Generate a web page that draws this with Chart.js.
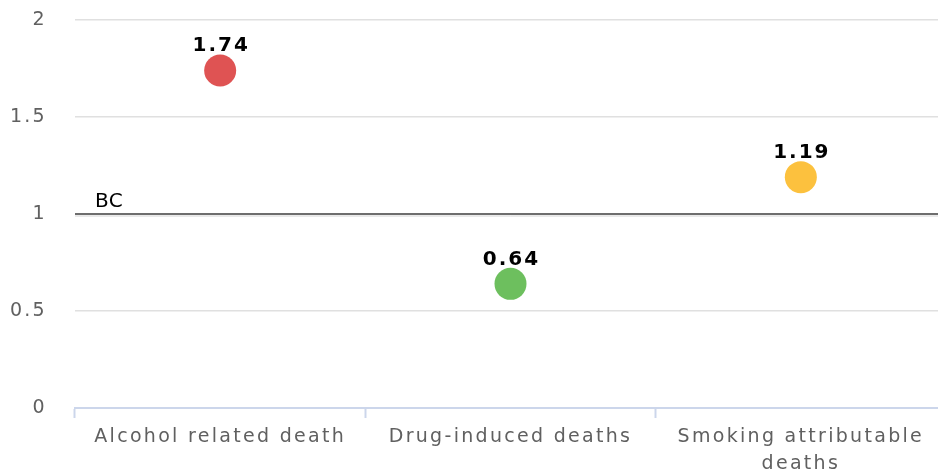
<!DOCTYPE html>
<html>
<head>
<meta charset="utf-8">
<script src="https://cdn.jsdelivr.net/npm/chart.js@4.4.0/dist/chart.umd.min.js"></script>
<style>
  html, body { margin: 0; padding: 0; background: #fff; overflow: hidden; }
  canvas { display: block; }
</style>
</head>
<body>
<canvas id="chart" width="962" height="476"></canvas>
<script>
const categories = ["Alcohol related death", "Drug-induced deaths", "Smoking attributable deaths"];
const values = [1.74, 0.64, 1.19];
const pointColors = ["#df5353", "#6dbf5e", "#fcc13e"];
const yTicks = [0, 0.5, 1, 1.5, 2];
const bcValue = 1;
const bcLabel = "BC";

const fontFamily = "'DejaVu Sans', Verdana, sans-serif";

// letter spacing is lost whenever the canvas is resized, so set it again before layout and draw
const spacingPlugin = {
    id: "spacing",
    beforeLayout(chart) { chart.ctx.letterSpacing = "2.3px"; },
    beforeDraw(chart) { chart.ctx.letterSpacing = "2.3px"; }
};

const bcLinePlugin = {
    id: "bcLine",
    beforeDatasetsDraw(chart) {
        const ctx = chart.ctx;
        const y = chart.scales.y.getPixelForValue(bcValue);
        const area = chart.chartArea;
        ctx.save();
        ctx.strokeStyle = "#6e6e6e";
        ctx.lineWidth = 2;
        ctx.beginPath();
        ctx.moveTo(area.left, y);
        ctx.lineTo(area.right, y);
        ctx.stroke();
        ctx.strokeStyle = "#d4d4d4";
        ctx.lineWidth = 1;
        ctx.beginPath();
        ctx.moveTo(area.left, y + 2);
        ctx.lineTo(area.right, y + 2);
        ctx.stroke();
        ctx.fillStyle = "#000";
        ctx.font = "20px " + fontFamily;
        ctx.letterSpacing = "0.5px";
        ctx.textAlign = "left";
        ctx.textBaseline = "alphabetic";
        ctx.fillText(bcLabel, area.left + 20, y - 7);
        ctx.restore();
    }
};

const labelPlugin = {
    id: "pointLabels",
    afterDatasetsDraw(chart) {
        const ctx = chart.ctx;
        const meta = chart.getDatasetMeta(0);
        ctx.save();
        ctx.fillStyle = "#000";
        ctx.font = "bold 20px " + fontFamily;
        ctx.letterSpacing = "2px";
        ctx.textAlign = "center";
        ctx.textBaseline = "alphabetic";
        meta.data.forEach((pt, i) => {
            ctx.fillText(values[i].toFixed(2), pt.x + 1, pt.y - 19);
        });
        ctx.restore();
    }
};

function wrapLabel(label) {
    if (label.length <= 22) return label;
    const cut = label.lastIndexOf(" ");
    return [label.slice(0, cut), label.slice(cut + 1)];
}

new Chart(document.getElementById("chart"), {
    type: "line",
    data: {
        labels: categories,
        datasets: [{
            data: values,
            showLine: false,
            pointRadius: 16,
            pointHoverRadius: 16,
            pointBorderWidth: 0,
            pointBackgroundColor: pointColors,
            pointBorderColor: pointColors
        }]
    },
    options: {
        responsive: false,
        animation: false,
        layout: { padding: { top: 20, right: 5, left: 0, bottom: 0 } },
        plugins: {
            legend: { display: false },
            tooltip: { enabled: false }
        },
        scales: {
            x: {
                offset: true,
                grid: {
                    offset: true,
                    drawOnChartArea: false,
                    drawTicks: true,
                    tickLength: 10,
                    tickWidth: 2,
                    tickColor: "#ccd6eb"
                },
                border: { display: true, color: "#ccd6eb", width: 2 },
                ticks: {
                    color: "#606060",
                    padding: 6,
                    maxRotation: 0,
                    autoSkip: false,
                    font: { family: fontFamily, size: 19, lineHeight: 1.4 },
                    callback: (v, i) => wrapLabel(categories[i])
                },
                afterFit: (scale) => {
                    scale.height = 68;
                    scale.paddingLeft = 0;
                    scale.paddingRight = 0;
                }
            },
            y: {
                min: yTicks[0],
                max: yTicks[yTicks.length - 1],
                afterBuildTicks: (scale) => { scale.ticks = yTicks.map(v => ({ value: v })); },
                grid: {
                    drawTicks: false,
                    color: (c) => c.tick.value === 0 ? "rgba(0,0,0,0)" : "#e0e0e0",
                    lineWidth: 1.5
                },
                border: { display: false },
                ticks: {
                    color: "#606060",
                    padding: 28,
                    font: { family: fontFamily, size: 19 },
                    callback: (v) => String(v)
                },
                afterFit: (scale) => {
                    scale.width = 75;
                    scale.paddingTop = 0;
                    scale.paddingBottom = 0;
                }
            }
        }
    },
    plugins: [spacingPlugin, bcLinePlugin, labelPlugin]
});
</script>
</body>
</html>
